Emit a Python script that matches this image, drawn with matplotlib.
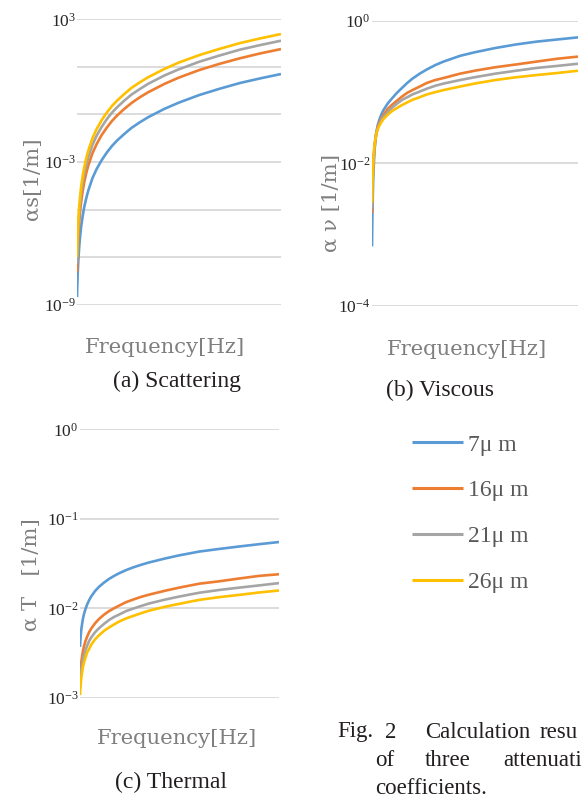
import matplotlib.pyplot as plt
from matplotlib.ticker import FixedLocator, NullLocator

plt.rcParams['mathtext.fontset'] = 'custom'
plt.rcParams['mathtext.rm'] = 'Liberation Serif'
plt.rcParams['mathtext.it'] = 'Liberation Serif:italic'

# frequency axis (no tick values shown in the figure, relative units)
freq = [0.45, 0.6, 0.8, 1.1, 1.6, 2.0, 2.5, 3.2, 4, 5, 6, 8, 10, 12.5, 15, 17.5,
        20, 23.5, 27, 31, 35, 43, 50, 60, 70, 80, 90, 100]

sizes = ['7μ m', '16μ m', '21μ m', '26μ m']
colors = ['#5B9BD5', '#ED7D31', '#A5A5A5', '#FFC000']

# (a) scattering attenuation [1/m]
scat_7 = [2.1e-9, 6.5e-9, 2.1e-8, 7.3e-8, 3.3e-7, 8.0e-7, 2.0e-6, 5.2e-6, 1.3e-5, 3.1e-5,
          6.5e-5, 2.1e-4, 5.0e-4, 1.2e-3, 2.5e-3, 4.7e-3, 8.0e-3, 1.5e-2, 2.7e-2, 4.6e-2,
          7.5e-2, 0.17, 0.31, 0.65, 1.2, 2.1, 3.3, 5.0]
scat_16 = [2.3e-8, 7.3e-8, 2.3e-7, 8.2e-7, 3.7e-6, 9.0e-6, 2.2e-5, 5.8e-5, 1.45e-4, 3.5e-4,
           7.3e-4, 2.35e-3, 5.6e-3, 1.37e-2, 2.8e-2, 5.3e-2, 9.0e-2, 0.17, 0.30, 0.52,
           0.84, 1.9, 3.5, 7.3, 13.4, 23, 37, 56]
scat_21 = [5.3e-8, 1.63e-7, 5.3e-7, 1.83e-6, 8.3e-6, 2.0e-5, 5.0e-5, 1.3e-4, 3.3e-4, 7.8e-4,
           1.63e-3, 5.3e-3, 1.26e-2, 3.0e-2, 6.3e-2, 0.118, 0.20, 0.38, 0.68, 1.15,
           1.9, 4.3, 7.8, 16.3, 30, 53, 83, 126]
scat_26 = [1.0e-7, 3.1e-7, 1.0e-6, 3.5e-6, 1.6e-5, 3.8e-5, 9.6e-5, 2.5e-4, 6.2e-4, 1.5e-3,
           3.1e-3, 1.0e-2, 2.4e-2, 5.8e-2, 0.12, 0.225, 0.38, 0.72, 1.3, 2.2,
           3.6, 8.1, 15, 31, 57, 100, 158, 240]

# (b) viscous attenuation [1/m]
visc_7 = [6.8e-4, 1.58e-3, 3.2e-3, 7.1e-3, 1.41e-2, 2.0e-2, 2.7e-2, 3.4e-2, 4.1e-2, 4.9e-2,
          5.6e-2, 6.9e-2, 8.1e-2, 9.8e-2, 0.115, 0.135, 0.155, 0.182, 0.209, 0.240,
          0.269, 0.324, 0.363, 0.417, 0.468, 0.513, 0.550, 0.589]
visc_16 = [2.0e-3, 3.5e-3, 6.0e-3, 1.0e-2, 1.58e-2, 2.0e-2, 2.6e-2, 3.2e-2, 3.7e-2, 4.3e-2,
           4.8e-2, 5.8e-2, 6.6e-2, 7.6e-2, 8.7e-2, 9.8e-2, 0.107, 0.120, 0.135, 0.148,
           0.158, 0.182, 0.200, 0.224, 0.245, 0.269, 0.295, 0.316]
visc_21 = [2.3e-3, 4.0e-3, 6.6e-3, 1.07e-2, 1.66e-2, 2.1e-2, 2.6e-2, 3.1e-2, 3.5e-2, 4.1e-2,
           4.5e-2, 5.2e-2, 6.0e-2, 6.9e-2, 7.8e-2, 8.5e-2, 9.3e-2, 0.102, 0.112, 0.123,
           0.132, 0.148, 0.162, 0.182, 0.200, 0.219, 0.234, 0.251]
visc_26 = [2.8e-3, 4.5e-3, 7.2e-3, 1.15e-2, 1.74e-2, 2.1e-2, 2.6e-2, 3.0e-2, 3.4e-2, 3.8e-2,
           4.2e-2, 4.8e-2, 5.4e-2, 6.0e-2, 6.6e-2, 7.2e-2, 7.8e-2, 8.5e-2, 9.3e-2, 0.100,
           0.107, 0.120, 0.132, 0.148, 0.162, 0.174, 0.186, 0.200]

# (c) thermal attenuation [1/m]
therm_7 = [3.7e-3, 4.3e-3, 4.9e-3, 5.8e-3, 6.9e-3, 7.8e-3, 8.7e-3, 9.8e-3, 1.1e-2, 1.23e-2,
           1.35e-2, 1.56e-2, 1.74e-2, 1.94e-2, 2.13e-2, 2.3e-2, 2.46e-2, 2.67e-2, 2.86e-2,
           3.06e-2, 3.25e-2, 3.6e-2, 3.9e-2, 4.3e-2, 4.6e-2, 4.9e-2, 5.2e-2, 5.5e-2]
therm_16 = [1.6e-3, 1.9e-3, 2.15e-3, 2.5e-3, 3.0e-3, 3.4e-3, 3.8e-3, 4.3e-3, 4.8e-3, 5.4e-3,
            5.9e-3, 6.8e-3, 7.6e-3, 8.5e-3, 9.3e-3, 1.0e-2, 1.07e-2, 1.17e-2, 1.25e-2,
            1.34e-2, 1.42e-2, 1.57e-2, 1.70e-2, 1.88e-2, 2.0e-2, 2.15e-2, 2.3e-2, 2.4e-2]
therm_21 = [1.28e-3, 1.49e-3, 1.7e-3, 2.0e-3, 2.4e-3, 2.7e-3, 3.0e-3, 3.4e-3, 3.8e-3, 4.3e-3,
            4.7e-3, 5.4e-3, 6.0e-3, 6.7e-3, 7.4e-3, 8.0e-3, 8.5e-3, 9.3e-3, 9.9e-3,
            1.06e-2, 1.13e-2, 1.25e-2, 1.35e-2, 1.49e-2, 1.6e-2, 1.7e-2, 1.8e-2, 1.91e-2]
therm_26 = [1.07e-3, 1.24e-3, 1.41e-3, 1.67e-3, 2.0e-3, 2.25e-3, 2.5e-3, 2.8e-3, 3.2e-3, 3.5e-3,
            3.9e-3, 4.5e-3, 5.0e-3, 5.6e-3, 6.1e-3, 6.6e-3, 7.1e-3, 7.7e-3, 8.2e-3,
            8.8e-3, 9.4e-3, 1.04e-2, 1.12e-2, 1.24e-2, 1.33e-2, 1.41e-2, 1.50e-2, 1.58e-2]

W, H = 582, 808


def box(x0, y0, x1, y1):
    # pixel box -> figure fraction
    return [x0 / W, 1 - y1 / H, (x1 - x0) / W, (y1 - y0) / H]


def setup(ax, grid_exp, label_exp):
    ax.set_yscale('log')
    ax.set_xlim(freq[0], freq[-1])
    ax.set_ylim(10.0 ** grid_exp[0], 10.0 ** grid_exp[-1])
    ax.yaxis.set_major_locator(FixedLocator([10.0 ** e for e in grid_exp]))
    ax.yaxis.set_minor_locator(NullLocator())
    ax.set_yticklabels([f'$10^{{{e}}}$' if e in label_exp else '' for e in grid_exp])
    ax.set_xticks([])
    for s in ax.spines.values():
        s.set_visible(False)
    ax.tick_params(axis='y', length=0, pad=1, labelsize=12.5, labelcolor='#262626')
    ax.grid(axis='y', color='#D9D9D9', linewidth=1.3)
    ax.set_axisbelow(True)


fig = plt.figure(figsize=(W / 100, H / 100), dpi=100)

panels = [
    (box(77, 19.3, 281, 304.7), [scat_7, scat_16, scat_21, scat_26],
     [-9, -7, -5, -3, -1, 1, 3], [-9, -3, 3]),
    (box(372, 21, 578, 305.7), [visc_7, visc_16, visc_21, visc_26],
     [-4, -2, 0], [-4, -2, 0]),
    (box(80, 429.3, 279.3, 697.7), [therm_7, therm_16, therm_21, therm_26],
     [-3, -2, -1, 0], [-3, -2, -1, 0]),
]

axes = []
for rect, series, grid_exp, label_exp in panels:
    ax = fig.add_axes(rect)
    for vals, c, lab in zip(series, colors, sizes):
        ax.plot(freq, vals, color=c, linewidth=1.9, label=lab, solid_capstyle='butt')
    setup(ax, grid_exp, label_exp)
    axes.append(ax)

gray = '#7F7F7F'
lab_font = dict(family='DejaVu Serif', color=gray, fontsize=15.2, ha='center', va='center')

# axis titles
fig.text(165 / W, 1 - 347 / H, 'Frequency[Hz]', **lab_font)
fig.text(467 / W, 1 - 349 / H, 'Frequency[Hz]', **lab_font)
fig.text(177 / W, 1 - 738 / H, 'Frequency[Hz]', **lab_font)
fig.text(32 / W, 1 - 179 / H, 'αs[1/m]', rotation=90, **lab_font)
fig.text(331 / W, 1 - 203 / H, 'α ν [1/m]', rotation=90, **lab_font)
fig.text(31 / W, 1 - 575 / H, 'α T   [1/m]', rotation=90, **lab_font)

# sub captions
cap_font = dict(family='Liberation Serif', color='#231F20', fontsize=17, ha='center', va='center')
fig.text(177 / W, 1 - 381 / H, '(a) Scattering', **cap_font)
fig.text(440 / W, 1 - 390 / H, '(b) Viscous', **cap_font)
fig.text(171 / W, 1 - 782 / H, '(c) Thermal', **cap_font)

# figure caption, justified word by word; the source image cuts it at the right edge
txt_font = dict(family='Liberation Serif', color='#231F20', fontsize=16.5, ha='left', va='center')
caption_words = [(337, 732, 'Fig.'), (385, 732, '2'), (425, 732, 'Calculation'),
                 (540, 732, 'resu'),
                 (375, 761, 'of'), (425, 761, 'three'), (503, 761, 'attenuati'),
                 (375, 788, 'coefficients.')]
for x, y, w in caption_words:
    fig.text(x / W, 1 - y / H, w, **txt_font)

# legend
handles, labels = axes[2].get_legend_handles_labels()
leg = fig.legend(handles, labels, loc='upper left', bbox_to_anchor=(412 / W, 1 - 434 / H),
                 frameon=False, borderpad=0, borderaxespad=0, handlelength=2.16,
                 handletextpad=0.2, labelspacing=1.03,
                 prop={'family': 'Liberation Serif', 'size': 17})
for t in leg.get_texts():
    t.set_color('#595959')
for l in leg.get_lines():
    l.set_linewidth(2.2)

fig.savefig('out.png', dpi=100)
